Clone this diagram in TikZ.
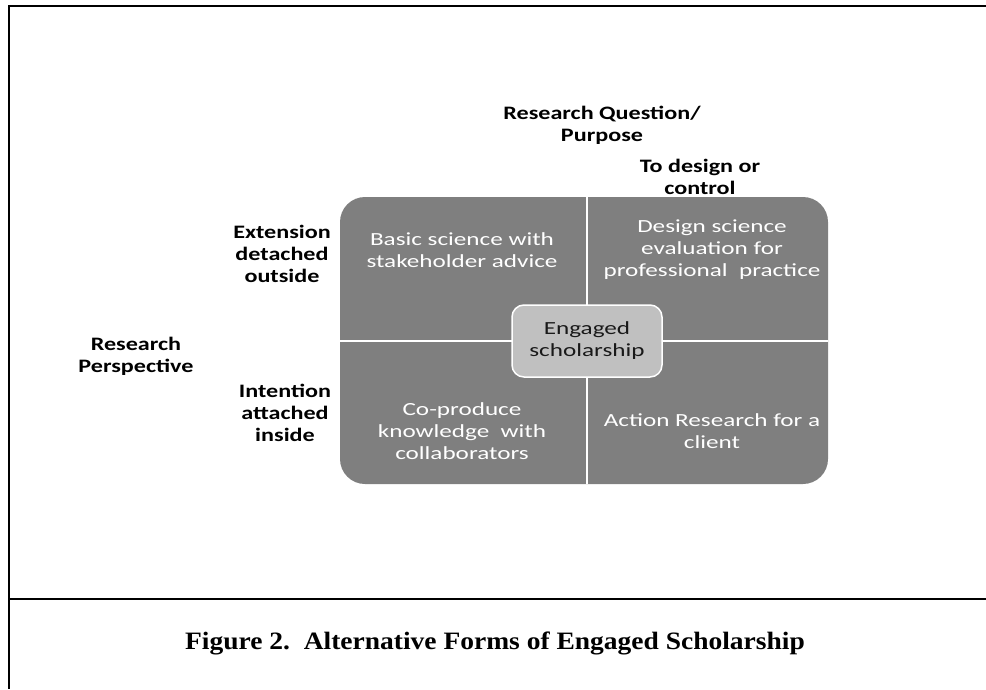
\documentclass[tikz,border=0pt]{standalone}
\usepackage{fontspec}
\setmainfont{Carlito}
\newfontfamily\quadfont[FakeStretch=1.36]{Carlito}
\newfontfamily\labfont[FakeStretch=1.27]{Carlito}
\newfontfamily\capfont[FakeStretch=1.1]{Liberation Serif}
\definecolor{quadgray}{HTML}{7F7F7F}
\definecolor{boxgray}{HTML}{C0C0C0}
\begin{document}
\begin{tikzpicture}[x=1pt,y=-1pt,
  quad/.style={font=\quadfont\fontsize{18.5}{22}\selectfont, text=white, align=center, inner sep=0pt},
  lab/.style={font=\labfont\bfseries\fontsize{19}{22}\selectfont, align=center, inner sep=0pt},
  frame/.style={line width=2pt, black},
  divider/.style={white, line width=1.3pt},
]
\useasboundingbox (0,0) rectangle (986,689);
% frame
\coordinate (tl) at (8.5,6);
\coordinate (tr) at (986,6);
\coordinate (bl) at (8.5,689);
\coordinate (ml) at (8.5,599);
\coordinate (mr) at (986,599);
\draw[frame] (tr) -- (tl) -- (bl);
\draw[frame] (ml) -- (mr);
% main grid
\node[fill=quadgray, rounded corners=25pt, minimum width=488pt, minimum height=287pt, inner sep=0pt] (grid) at (584,340.5) {};
\coordinate (vt) at (587,197);
\coordinate (vb) at (587,484);
\coordinate (hl) at (340,341);
\coordinate (hr) at (828,341);
\draw[divider] (vt) -- (vb);
\draw[divider] (hl) -- (hr);
\node[quad] (q1) at (462,250) {Basic science with\\stakeholder advice};
\node[quad] (q2) at (712,250) {Design science\\evaluation for\\professional~~practice};
\node[quad] (q3) at (462,431) {Co-produce\\knowledge~~with\\collaborators};
\node[quad] (q4) at (712,431) {Action Research for a\\client};
\node[fill=boxgray, draw=white, line width=1.5pt, rounded corners=12pt, minimum width=150pt, minimum height=72pt, inner sep=0pt, align=center, text=black!90, font=\quadfont\fontsize{18.5}{22}\selectfont] (core) at (587,341) {Engaged\\scholarship};
% labels
\node[lab] (rq) at (602,125) {Research Question/\\Purpose};
\node[lab] (dc) at (700,177) {To design or\\control};
\node[lab] (ext) at (282,254) {Extension\\detached\\outside};
\node[lab] (rp) at (136,356) {Research\\Perspective};
\node[lab] (int) at (285,413) {Intention\\attached\\inside};
% caption
\node[font=\capfont\bfseries\fontsize{25}{28}\selectfont, inner sep=0pt] (cap) at (495,643) {Figure 2.~~Alternative Forms of Engaged Scholarship};
\end{tikzpicture}
\end{document}
